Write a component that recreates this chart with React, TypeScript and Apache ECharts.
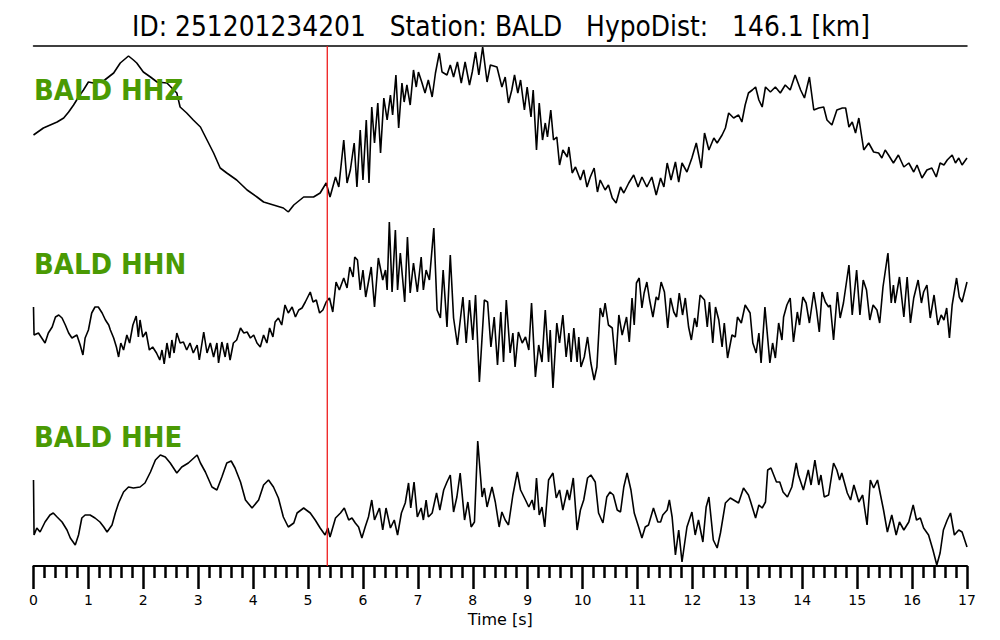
import React, { useEffect, useRef } from "react";
import * as echarts from "echarts";

// Title / station info
const EVENT_ID = "251201234201";
const STATION = "BALD";
const HYPO_DIST_KM = 146.1;
const CHANNELS = ["HHZ", "HHN", "HHE"];
const PICK_T = 5.35; // red pick line [s]
const T_MIN = 0;
const T_MAX = 17;

// [time s, amplitude (arbitrary counts)]
const HHZ: [number, number][] = [
  [0.0,-6],[0.18,1],[0.43,7],[0.55,11],[0.64,17],[0.73,24],[0.82,32],[0.91,39],[1.0,47],[1.09,46],
  [1.25,47],[1.46,56],[1.58,66],[1.73,73],[1.82,69],[1.88,66],[2.0,57],[2.13,52],[2.25,47],[2.43,46],
  [2.61,36],[2.67,22],[2.79,16],[2.91,9],[3.04,2],[3.16,-11],[3.28,-24],[3.4,-39],[3.52,-44],[3.7,-51],
  [3.89,-61],[4.07,-68],[4.19,-73],[4.37,-76],[4.55,-79],[4.64,-83],[4.74,-76],[4.92,-68],[5.1,-68],[5.22,-64],
  [5.33,-54],[5.4,-68],[5.5,-48],[5.56,-58],[5.65,-11],[5.71,-54],[5.77,-41],[5.84,-14],[5.89,-58],[5.95,-1],
  [6.0,-51],[6.06,9],[6.11,-54],[6.16,22],[6.21,-14],[6.27,26],[6.32,-24],[6.38,31],[6.44,9],[6.5,34],
  [6.54,14],[6.6,54],[6.65,1],[6.71,46],[6.75,27],[6.8,44],[6.86,24],[6.92,59],[6.97,42],[7.01,57],
  [7.07,47],[7.13,36],[7.19,49],[7.26,32],[7.32,56],[7.39,76],[7.44,57],[7.53,54],[7.59,64],[7.65,52],
  [7.72,67],[7.79,46],[7.86,67],[7.94,44],[7.99,57],[8.05,77],[8.11,54],[8.18,82],[8.26,47],[8.32,64],
  [8.44,62],[8.53,42],[8.59,52],[8.65,26],[8.71,39],[8.76,54],[8.82,36],[8.87,49],[8.94,19],[8.99,42],
  [9.06,12],[9.1,39],[9.16,-21],[9.21,26],[9.27,-11],[9.32,6],[9.36,-8],[9.42,19],[9.47,-11],[9.53,-8],
  [9.58,-36],[9.64,-21],[9.72,-28],[9.75,-18],[9.81,-44],[9.87,-38],[9.96,-51],[10.02,-41],[10.08,-58],[10.14,-48],
  [10.21,-39],[10.27,-63],[10.32,-51],[10.41,-61],[10.47,-56],[10.54,-69],[10.61,-74],[10.69,-58],[10.75,-64],[10.84,-54],
  [10.93,-46],[11.01,-58],[11.08,-48],[11.17,-58],[11.26,-48],[11.34,-66],[11.42,-49],[11.48,-58],[11.54,-34],[11.61,-51],
  [11.69,-33],[11.75,-53],[11.81,-34],[11.9,-43],[11.99,-29],[12.07,-14],[12.16,-39],[12.22,-4],[12.3,-21],[12.39,-9],
  [12.45,-14],[12.54,-6],[12.6,1],[12.66,16],[12.75,11],[12.84,14],[12.9,7],[12.96,24],[13.02,36],[13.09,39],
  [13.15,42],[13.21,29],[13.27,22],[13.33,42],[13.42,37],[13.51,42],[13.6,36],[13.69,44],[13.78,39],[13.87,54],
  [13.97,39],[14.04,31],[14.13,52],[14.21,19],[14.3,21],[14.39,22],[14.45,9],[14.54,4],[14.63,19],[14.73,21],
  [14.79,21],[14.85,2],[14.91,7],[14.97,-4],[15.03,11],[15.12,-21],[15.21,-14],[15.3,-23],[15.39,-24],[15.45,-29],
  [15.51,-21],[15.57,-26],[15.66,-34],[15.75,-26],[15.85,-38],[15.94,-34],[16.03,-43],[16.09,-36],[16.18,-49],[16.27,-41],
  [16.36,-39],[16.44,-48],[16.51,-34],[16.58,-36],[16.64,-31],[16.73,-26],[16.79,-34],[16.85,-29],[16.91,-36],[17.0,-29]
];

const HHN: [number, number][] = [
  [0.0,-3],[0.01,-31],[0.09,-29],[0.15,-34],[0.21,-39],[0.27,-29],[0.34,-23],[0.4,-13],[0.46,-11],[0.52,-14],
  [0.58,-21],[0.64,-29],[0.7,-34],[0.79,-31],[0.85,-41],[0.9,-51],[0.94,-34],[1.0,-26],[1.06,-9],[1.12,-3],
  [1.18,-3],[1.25,-9],[1.31,-16],[1.37,-21],[1.4,-26],[1.46,-34],[1.51,-43],[1.55,-53],[1.59,-39],[1.64,-46],
  [1.7,-31],[1.75,-39],[1.81,-21],[1.87,-12],[1.91,-33],[1.94,-16],[1.99,-33],[2.05,-28],[2.11,-46],[2.17,-43],
  [2.24,-49],[2.3,-56],[2.34,-46],[2.38,-60],[2.43,-39],[2.48,-54],[2.52,-36],[2.56,-49],[2.61,-29],[2.67,-39],
  [2.73,-38],[2.79,-46],[2.85,-39],[2.91,-49],[2.98,-41],[3.02,-56],[3.1,-28],[3.16,-49],[3.22,-39],[3.28,-53],
  [3.34,-39],[3.37,-59],[3.43,-38],[3.49,-53],[3.53,-39],[3.58,-56],[3.64,-39],[3.7,-36],[3.77,-24],[3.83,-29],
  [3.89,-28],[3.95,-34],[4.01,-31],[4.07,-39],[4.13,-43],[4.19,-31],[4.25,-39],[4.3,-24],[4.36,-33],[4.4,-18],
  [4.46,-14],[4.52,-21],[4.58,-1],[4.64,-9],[4.71,-3],[4.77,-13],[4.83,-6],[4.89,-4],[4.95,2],[5.04,12],
  [5.09,2],[5.15,4],[5.21,-9],[5.27,-6],[5.33,2],[5.39,6],[5.45,-8],[5.51,22],[5.57,14],[5.65,26],
  [5.71,16],[5.76,37],[5.82,27],[5.85,47],[5.9,44],[5.95,14],[6.0,34],[6.05,7],[6.1,22],[6.15,37],
  [6.21,-3],[6.28,46],[6.36,24],[6.41,34],[6.44,14],[6.48,82],[6.53,12],[6.59,74],[6.63,14],[6.68,51],
  [6.76,2],[6.81,67],[6.86,11],[6.92,41],[6.99,12],[7.06,47],[7.1,14],[7.15,34],[7.21,24],[7.29,76],
  [7.35,-6],[7.41,-14],[7.46,34],[7.53,-23],[7.59,49],[7.65,-14],[7.72,-41],[7.82,7],[7.88,-39],[7.94,4],
  [8.0,-36],[8.05,9],[8.12,-78],[8.21,4],[8.27,2],[8.33,-43],[8.39,-13],[8.45,-61],[8.51,-8],[8.56,-58],
  [8.61,4],[8.68,-49],[8.73,-29],[8.77,-63],[8.83,-28],[8.9,-39],[8.96,-33],[9.02,-46],[9.07,1],[9.14,-73],
  [9.2,-41],[9.26,-58],[9.32,-6],[9.38,-58],[9.41,-26],[9.46,-84],[9.53,-19],[9.58,-39],[9.64,-11],[9.7,-53],
  [9.75,-29],[9.79,-58],[9.84,-24],[9.9,-58],[9.93,-33],[9.97,-63],[10.03,-53],[10.09,-33],[10.15,-59],[10.21,-76],
  [10.26,-63],[10.32,-4],[10.37,-13],[10.41,1],[10.47,-21],[10.54,-24],[10.6,-61],[10.66,-11],[10.72,-31],[10.8,-13],
  [10.85,-38],[10.9,6],[10.94,-21],[10.98,21],[11.03,26],[11.08,-4],[11.12,11],[11.17,22],[11.22,4],[11.28,-13],
  [11.34,7],[11.38,4],[11.43,22],[11.49,12],[11.55,-24],[11.6,6],[11.66,-8],[11.71,-13],[11.76,11],[11.82,-11],
  [11.87,6],[11.93,-23],[11.98,-36],[12.04,-14],[12.08,-23],[12.14,9],[12.22,4],[12.27,-23],[12.31,2],[12.37,-39],
  [12.42,-3],[12.48,-16],[12.54,-43],[12.58,-19],[12.64,-54],[12.72,-31],[12.78,-33],[12.82,-13],[12.89,-19],[12.96,-1],
  [13.05,-9],[13.1,-39],[13.16,-49],[13.21,-29],[13.25,-59],[13.32,-3],[13.41,-59],[13.46,-39],[13.51,-54],[13.57,-19],
  [13.63,-36],[13.66,-13],[13.72,-1],[13.78,6],[13.84,-38],[13.91,-8],[13.95,-21],[14.01,7],[14.07,1],[14.13,-19],
  [14.21,12],[14.26,-6],[14.31,-28],[14.36,12],[14.42,2],[14.48,-3],[14.51,-1],[14.57,-36],[14.64,12],[14.69,-14],
  [14.75,1],[14.85,39],[14.91,-11],[14.99,34],[15.05,-11],[15.11,24],[15.17,14],[15.23,-16],[15.29,-1],[15.36,-6],
  [15.41,-19],[15.47,17],[15.56,51],[15.62,1],[15.66,19],[15.69,1],[15.77,27],[15.85,-13],[15.91,27],[15.97,-19],
  [16.03,6],[16.11,24],[16.17,1],[16.21,12],[16.27,19],[16.33,-14],[16.4,9],[16.47,-21],[16.53,-11],[16.58,-16],
  [16.63,-4],[16.68,-34],[16.73,-1],[16.81,26],[16.86,7],[16.91,2],[17.0,22]
];

const HHE: [number, number][] = [
  [0.0,21],[0.01,-34],[0.06,-27],[0.12,-31],[0.21,-21],[0.3,-14],[0.36,-12],[0.43,-16],[0.52,-21],[0.61,-29],
  [0.67,-37],[0.76,-44],[0.82,-34],[0.88,-17],[0.94,-14],[1.03,-14],[1.12,-17],[1.21,-21],[1.28,-26],[1.34,-31],
  [1.43,-24],[1.49,-12],[1.55,-2],[1.64,9],[1.73,14],[1.82,13],[1.94,14],[2.03,18],[2.13,29],[2.22,41],
  [2.31,46],[2.4,44],[2.49,38],[2.61,28],[2.7,34],[2.82,38],[2.98,46],[3.04,38],[3.13,29],[3.25,14],
  [3.34,11],[3.43,24],[3.52,38],[3.6,40],[3.67,33],[3.77,19],[3.86,1],[3.98,-7],[4.1,1],[4.19,16],
  [4.28,21],[4.37,14],[4.46,3],[4.55,-16],[4.64,-26],[4.74,-22],[4.8,-12],[4.92,-7],[5.04,-12],[5.13,-19],
  [5.22,-27],[5.31,-34],[5.36,-27],[5.4,-36],[5.5,-17],[5.59,-12],[5.66,-7],[5.74,-19],[5.8,-17],[5.86,-22],
  [5.92,-26],[5.98,-37],[6.04,-26],[6.1,-16],[6.16,1],[6.21,-19],[6.3,-7],[6.36,-29],[6.42,-7],[6.5,-27],
  [6.57,-19],[6.63,-34],[6.7,-12],[6.77,-2],[6.83,18],[6.87,-7],[6.93,19],[6.99,-16],[7.06,-7],[7.1,-19],
  [7.15,1],[7.19,-16],[7.26,-12],[7.34,8],[7.4,-9],[7.47,11],[7.53,19],[7.59,26],[7.65,-11],[7.71,4],
  [7.77,28],[7.85,-19],[7.91,-1],[7.97,-26],[8.03,-21],[8.09,60],[8.17,4],[8.21,13],[8.26,-6],[8.35,14],
  [8.41,-1],[8.48,-26],[8.53,-11],[8.59,-19],[8.65,-24],[8.73,6],[8.81,29],[8.87,11],[8.96,1],[9.02,-6],
  [9.08,1],[9.12,-9],[9.16,23],[9.21,-14],[9.26,-6],[9.31,-26],[9.38,21],[9.46,28],[9.52,3],[9.58,11],
  [9.64,-9],[9.72,11],[9.76,1],[9.83,23],[9.9,-29],[9.96,-9],[10.02,1],[10.09,23],[10.15,26],[10.23,19],
  [10.29,-12],[10.37,-22],[10.44,4],[10.5,9],[10.56,6],[10.63,-9],[10.69,-11],[10.75,14],[10.81,28],[10.88,11],
  [10.94,-12],[11.02,-26],[11.08,-37],[11.14,-26],[11.2,-24],[11.29,-7],[11.37,-21],[11.42,-21],[11.46,-14],[11.54,-9],
  [11.58,1],[11.63,-16],[11.69,-54],[11.75,-29],[11.81,-61],[11.9,-26],[11.99,-11],[12.05,-34],[12.11,-19],[12.19,-41],
  [12.25,-6],[12.3,4],[12.38,-39],[12.45,-47],[12.51,-32],[12.6,-2],[12.69,3],[12.84,-2],[12.93,13],[13.02,6],
  [13.05,1],[13.15,-17],[13.21,-4],[13.27,-7],[13.33,-1],[13.37,31],[13.43,33],[13.53,19],[13.59,19],[13.65,9],
  [13.73,4],[13.81,14],[13.89,38],[13.93,26],[14.02,11],[14.11,31],[14.16,16],[14.23,41],[14.3,16],[14.34,26],
  [14.4,4],[14.48,6],[14.57,38],[14.63,31],[14.68,21],[14.72,28],[14.82,8],[14.88,1],[14.94,16],[15.03,-1],
  [15.1,6],[15.18,-24],[15.24,21],[15.3,13],[15.37,21],[15.48,-9],[15.55,-31],[15.63,-14],[15.71,-34],[15.77,-21],
  [15.85,-29],[15.94,-21],[16.02,-4],[16.08,-19],[16.15,-17],[16.21,-27],[16.3,-34],[16.38,-49],[16.45,-64],[16.51,-52],
  [16.57,-29],[16.64,-19],[16.7,-12],[16.77,-34],[16.85,-29],[16.91,-31],[17.0,-46]
];

const TRACES = [HHZ, HHN, HHE];
const GREEN = "#4a9a03";

export default function App() {
  const ref = useRef<HTMLDivElement>(null);
  useEffect(() => {
    if (!ref.current) return;
    const chart = echarts.init(ref.current, undefined, { renderer: "svg" });
    const L = 33.5;
    const R = 33;
    const grids = [
      { left: L, right: R, top: 46, height: 166 },
      { left: L, right: R, top: 216, height: 176 },
      { left: L, right: R, top: 436, height: 130 },
      { left: L, right: R, top: 46, height: 520 },
    ];
    const yRanges = [83, 88, 65];
    const xAxes: any[] = [0, 1, 2].map((i) => ({
      type: "value", gridIndex: i, min: T_MIN, max: T_MAX, show: false,
    }));
    xAxes.push({
      type: "value", gridIndex: 3, min: T_MIN, max: T_MAX, interval: 1, position: "bottom",
      axisLine: { show: true, lineStyle: { color: "#000", width: 2 } },
      axisTick: { show: true, length: 23, lineStyle: { color: "#000", width: 2.5 } },
      minorTick: { show: true, splitNumber: 5, length: 12, lineStyle: { color: "#000", width: 2.5 } },
      splitLine: { show: false },
      minorSplitLine: { show: false },
      axisLabel: { color: "#000", fontSize: 14, margin: 27, fontFamily: "DejaVu Sans" },
      name: "Time [s]", nameLocation: "middle", nameGap: 42,
      nameTextStyle: { color: "#000", fontSize: 16, fontFamily: "DejaVu Sans" },
    });
    xAxes.push({
      type: "value", gridIndex: 3, min: T_MIN, max: T_MAX, position: "top",
      axisLine: { show: true, lineStyle: { color: "#000", width: 1.5 } },
      axisTick: { show: false }, axisLabel: { show: false }, splitLine: { show: false },
    });
    const yAxes: any[] = yRanges.map((r, i) => ({
      type: "value", gridIndex: i, min: -r, max: r, show: false,
    }));
    yAxes.push({ type: "value", gridIndex: 3, min: 0, max: 1, show: false });

    const series: any[] = TRACES.map((d, i) => ({
      type: "line", xAxisIndex: i, yAxisIndex: i, data: d, symbol: "none",
      lineStyle: { color: "#000", width: 1.6 }, silent: true, z: 2,
    }));
    series.push({
      type: "line", xAxisIndex: 3, yAxisIndex: 3, data: [[PICK_T, 0], [PICK_T, 1]],
      symbol: "none", lineStyle: { color: "#ee1c1c", width: 1.3 }, silent: true, z: 3,
    });

    const labelY = [90.5, 264, 437];
    const graphics: any[] = CHANNELS.map((c, i) => ({
      type: "text", x: 34, y: labelY[i], z: 10, scaleY: 1.08,
      style: {
        text: `${STATION} ${c}`, fill: GREEN, fontSize: 26, fontWeight: "bold",
        fontFamily: "DejaVu Sans", verticalAlign: "middle", align: "left",
      },
    }));
    graphics.push({
      type: "text", x: 501, y: 26, z: 10, scaleY: 1.12,
      style: {
        text: `ID: ${EVENT_ID}   Station: ${STATION}   HypoDist:   ${HYPO_DIST_KM.toFixed(1)} [km]`,
        fill: "#000", fontSize: 25, fontFamily: "DejaVu Sans",
        align: "center", verticalAlign: "middle",
      },
    });
    chart.setOption({
      animation: false,
      backgroundColor: "#fff",
      grid: grids,
      xAxis: xAxes,
      yAxis: yAxes,
      series,
      graphic: graphics,
    });
    return () => chart.dispose();
  }, []);
  return (
    <div
      ref={ref}
      style={{ position: "absolute", left: 0, top: 0, width: 1000, height: 640, background: "#fff" }}
    />
  );
}
